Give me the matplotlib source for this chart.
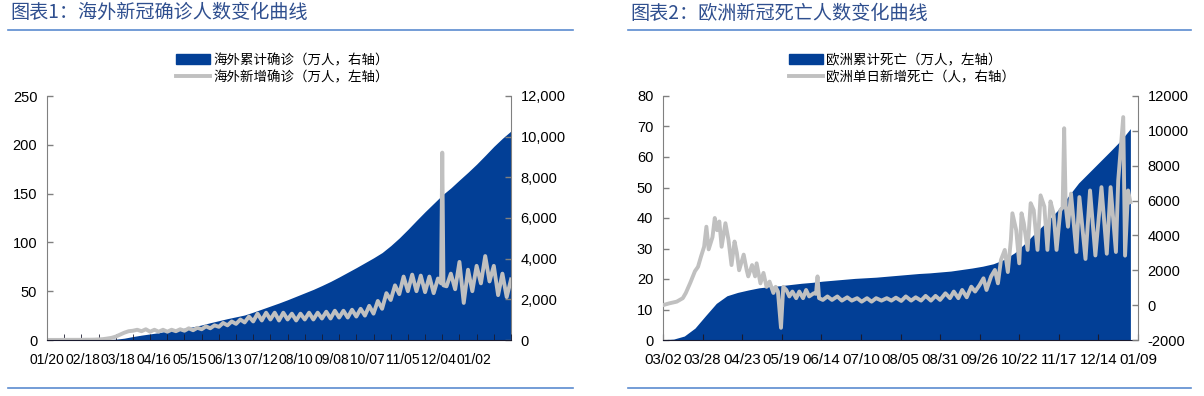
import numpy as np
import matplotlib.pyplot as plt
from matplotlib.lines import Line2D
from matplotlib.patches import Patch
from matplotlib.ticker import FuncFormatter

plt.rcParams['font.family'] = ['Liberation Sans', 'Noto Sans CJK SC', 'DejaVu Sans']
plt.rcParams['axes.unicode_minus'] = False

BLUE = '#023F96'
GRAY = '#C0C0C0'
TITLE_C = '#2F4F8F'
RULE_C = '#5B8BD0'
CJK = ['Noto Sans CJK SC', 'DejaVu Sans']

# ---- 图表1: 海外新冠确诊 (day index from 2020-01-20) ----
labels_1 = ['01/20', '02/18', '03/18', '04/16', '05/15', '06/13', '07/12',
            '08/10', '09/08', '10/07', '11/05', '12/04', '01/02']
cum_days_1 = list(range(0, 379, 7))
cum_vals_1 = [0, 0, 0, 1, 2, 4, 8, 15, 40, 90,
              170, 240, 300, 360, 440, 510, 580, 650, 740, 850,
              950, 1050, 1140, 1230, 1370, 1520, 1670, 1820, 1980, 2150,
              2320, 2490, 2680, 2880, 3100, 3330, 3560, 3800, 4040, 4300,
              4640, 5020, 5440, 5880, 6310, 6720, 7130, 7480, 7870, 8250,
              8650, 9080, 9520, 9920, 10280]
new_days_1 = [0, 3.5, 7, 10.5, 14, 17.5, 21, 24.5, 28, 31.5,
              35, 38.5, 42, 45.5, 49, 52.5, 56, 59.5, 63, 66.5,
              70, 73.5, 77, 80.5, 84, 87.5, 91, 94.5, 98, 101.5,
              105, 108.5, 112, 115.5, 119, 122.5, 126, 129.5, 133, 136.5,
              140, 143.5, 147, 150.5, 154, 157.5, 161, 164.5, 168, 171.5,
              175, 178.5, 182, 185.5, 189, 192.5, 196, 199.5, 203, 206.5,
              210, 213.5, 217, 220.5, 224, 227.5, 231, 234.5, 238, 241.5,
              245, 248.5, 252, 255.5, 259, 262.5, 266, 269.5, 273, 276.5,
              280, 283.5, 287, 290.5, 294, 297.5, 301, 304.5, 308, 311.5,
              315, 318.5, 321, 322, 323, 325.5, 329, 332.5, 336, 339.5,
              343, 346.5, 350, 353.5, 357, 360.5, 364, 367.5, 371, 374.5,
              378]
new_vals_1 = [0.1, 0.1, 0.1, 0.1, 0.2, 0.2, 0.2, 0.2, 0.2, 0.3,
              0.3, 0.4, 0.6, 0.9, 1.5, 2.2, 3.5, 5.5, 7.5, 9,
              9.5, 10.5, 9, 11, 8.5, 10.5, 8.5, 10.5, 8.5, 10.5,
              9, 11, 9.5, 12, 10, 12.5, 11, 14, 12, 15,
              13.5, 17.5, 15, 19, 16.5, 21, 18, 24, 19, 27,
              20, 28, 21, 28, 20, 28, 21, 27, 20, 27,
              21, 28, 21, 28, 22, 29, 22, 30, 23, 30,
              23, 31, 24, 32, 25, 35, 27, 40, 32, 48,
              41, 56, 47, 65, 50, 67, 50, 66, 49, 65,
              48, 63, 58, 192, 56, 55, 68, 52, 80, 38,
              72, 50, 76, 58, 86, 60, 76, 46, 68, 44,
              62]

# ---- 图表2: 欧洲新冠死亡 (data point index from 03/02) ----
labels_2 = ['03/02', '03/28', '04/23', '05/19', '06/14', '07/10', '08/05',
            '08/31', '09/26', '10/22', '11/17', '12/14', '01/09']
cum_idx_2 = [0, 7, 14, 21, 28, 35, 42, 49, 56, 63,
             70, 77, 84, 91, 98, 105, 112, 119, 126, 133,
             140, 147, 154, 161, 168, 175, 182, 189, 196, 203,
             210, 217, 224, 231, 238, 245, 252, 259, 266, 273,
             280, 287, 294, 301, 307]
cum_vals_2 = [0.1, 0.3, 1.3, 3.9, 8.0, 12.0, 14.5, 15.6, 16.4, 17.1,
              17.5, 17.8, 18.2, 18.6, 18.9, 19.3, 19.6, 19.9, 20.2, 20.4,
              20.6, 20.9, 21.2, 21.5, 21.8, 22.0, 22.3, 22.6, 23.1, 23.6,
              24.2, 25.0, 26.4, 28.6, 31.8, 35.4, 38.7, 42.4, 47.0, 51.5,
              55.0, 58.5, 62.0, 65.6, 69.3]
new_idx_2 = [0, 4, 9, 13, 15, 18, 21, 23, 25, 27,
             28.5, 30, 32.5, 34, 35.5, 37, 38.5, 41, 43, 45,
             47, 48.5, 50, 53, 55, 56, 58.5, 60.5, 61.5, 64,
             66, 68, 70, 72.5, 74, 75.5, 77.5, 79, 81, 83,
             85, 87.5, 89.5, 92, 94, 96, 99, 100.5, 101.5, 102.5,
             105, 108, 111, 114.5, 117.5, 121, 124, 127.5, 130.5, 134,
             137, 140, 143.5, 147, 150, 153, 156.5, 159.5, 163, 166,
             169.5, 172.5, 176, 179, 182, 185.5, 188.5, 191, 194, 196.5,
             199.5, 202.5, 205, 208, 210.5, 212.5, 215.5, 218, 220, 222,
             224.5, 226.5, 228.5, 229.5, 232, 234, 235.5, 237, 239.5, 241.5,
             243.5, 246, 248, 250.5, 252.5, 254.5, 256.5, 258.5, 261, 262.5,
             263.5, 264.5, 266, 268, 271.5, 273.5, 277.5, 280.5, 284, 288,
             291.5, 294, 297.5, 299, 302.3, 303.5, 305.5, 307]
new_vals_2 = [0, 100, 200, 400, 700, 1300, 1950, 2200, 2800, 3350,
              4500, 3200, 3900, 5000, 4300, 4800, 3350, 4700, 3750, 2300,
              3650, 3000, 2000, 2900, 2000, 1650, 2300, 1650, 2400, 1250,
              1850, 1050, 1350, 700, 1050, 780, -1300, 1050, 870, 500,
              780, 400, 780, 400, 870, 500, 680, 650, 1650, 400,
              300, 500, 300, 500, 260, 450, 260, 400, 200, 400,
              200, 400, 260, 400, 260, 430, 240, 500, 260, 450,
              260, 530, 260, 530, 300, 680, 400, 780, 400, 870,
              450, 1060, 780, 1160, 1540, 870, 1650, 2020, 1250, 2600,
              3170, 1900, 3750, 5270, 4300, 2400, 5270, 4700, 3170, 5850,
              5450, 3170, 6300, 5650, 3170, 5950, 5270, 3170, 5450, 5600,
              10150, 5700, 4500, 6400, 3050, 6200, 2650, 6580, 2850, 6770,
              2950, 6770, 3050, 7150, 10790, 2840, 6580, 5910]

W, H = 1204, 396
fig = plt.figure(figsize=(W / 100, H / 100), dpi=100)


def px_rect(x0, x1, y_top, y_bot):
    return [x0 / W, 1 - y_bot / H, (x1 - x0) / W, (y_bot - y_top) / H]


def style_axes(ax, ax2):
    for a in (ax, ax2):
        a.spines['top'].set_visible(False)
        a.tick_params(axis='y', direction='in', length=4, width=1,
                      color='#808080', labelsize=10.5, pad=7)
    ax.spines['left'].set_color('#808080')
    ax2.spines['right'].set_color('#808080')
    ax.spines['bottom'].set_color('#1a1a2e')
    ax2.spines['bottom'].set_visible(False)
    ax.spines['right'].set_visible(False)
    ax2.spines['left'].set_visible(False)


def header(x0, x1, text):
    fig.text(x0 / W + 2 / W, 1 - 13 / H, text, fontsize=13.8, color=TITLE_C,
             style='italic', va='center', ha='left', family=CJK)
    for y in (30, 388):
        fig.add_artist(Line2D([x0 / W, x1 / W], [1 - y / H, 1 - y / H],
                              transform=fig.transFigure, color=RULE_C, lw=1.2))


def legend(x_px, labels):
    fig.legend(handles=[Patch(facecolor=BLUE, edgecolor=BLUE),
                        Line2D([], [], color=GRAY, lw=2.8)],
               labels=labels, loc='upper left',
               bbox_to_anchor=(x_px / W, 1 - 53 / H), frameon=False,
               prop={'family': CJK, 'size': 9.7}, handlelength=2.5,
               handleheight=0.8, handletextpad=0.25, labelspacing=0.25,
               borderpad=0, borderaxespad=0)


# ---------- 图表1 ----------
ax = fig.add_axes(px_rect(47, 511, 96, 340))
ax2 = ax.twinx()
ax2.fill_between(cum_days_1, cum_vals_1, 0, color=BLUE, lw=0)
ax.plot(new_days_1, new_vals_1, color=GRAY, lw=2.8, solid_joinstyle='round')
ax.set_zorder(ax2.get_zorder() + 1)
ax.patch.set_visible(False)

ax.set_xlim(0, 378)
ax.set_ylim(0, 250)
ax.set_yticks(np.arange(0, 251, 50))
ax2.set_ylim(0, 12000)
ax2.set_yticks(np.arange(0, 12001, 2000))
ax2.yaxis.set_major_formatter(FuncFormatter(lambda v, p: f'{v:,.0f}'))
ax.set_xticks(np.arange(len(labels_1)) * 29)
ax.set_xticklabels(labels_1)
ax.set_xticks(np.arange(0, 379, 14), minor=True)
ax.tick_params(axis='x', which='major', length=0, labelsize=10, pad=9)
ax.tick_params(axis='x', which='minor', direction='in', length=4,
               color='#1a1a2e')
style_axes(ax, ax2)
header(8, 573, '图表1：海外新冠确诊人数变化曲线')
legend(176, ['海外累计确诊（万人，右轴）', '海外新增确诊（万人，左轴）'])

# ---------- 图表2 ----------
bx = fig.add_axes(px_rect(663, 1138, 96, 340))
bx2 = bx.twinx()
bx.fill_between(cum_idx_2, cum_vals_2, 0, color=BLUE, lw=0)
bx2.plot(new_idx_2, new_vals_2, color=GRAY, lw=2.8, solid_joinstyle='round')

bx.set_xlim(0, 307)
bx.set_ylim(0, 80)
bx.set_yticks(np.arange(0, 81, 10))
bx2.set_ylim(-2000, 12000)
bx2.set_yticks(np.arange(-2000, 12001, 2000))
bx.set_xticks(np.arange(len(labels_2)) * 26)
bx.set_xticklabels(labels_2)
bx.tick_params(axis='x', direction='in', length=4, color='#1a1a2e',
               labelsize=10.8, pad=9)
style_axes(bx, bx2)
header(628, 1191, '图表2：欧洲新冠死亡人数变化曲线')
legend(789, ['欧洲累计死亡（万人，左轴）', '欧洲单日新增死亡（人，右轴）'])

fig.savefig('out.png', dpi=100)
